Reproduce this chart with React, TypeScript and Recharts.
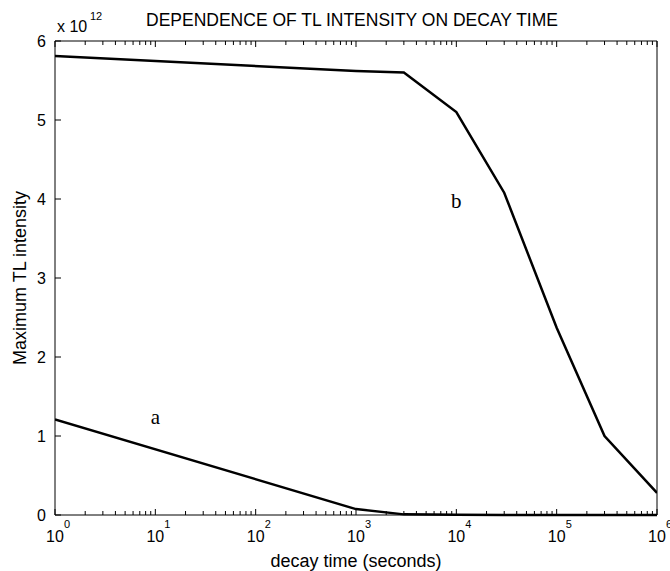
import React from 'react';
import { LineChart, Line, XAxis, YAxis, ReferenceDot } from 'recharts';

// decay time (seconds)
const decayTimes = [1, 1000, 3000, 10000, 30000, 100000, 300000, 1000000];
// Maximum TL intensity, in units of 10^12
const curveA = [1.21, 0.075, 0.008, 0.003, 0.001, 0.0005, 0, 0];
const curveB = [5.81, 5.62, 5.6, 5.1, 4.08, 2.37, 1.0, 0.28];

const xMajorTicks = [1, 10, 100, 1000, 10000, 100000, 1000000];
const xTickExponents = ['0', '1', '2', '3', '4', '5', '6'];
const minorMultipliers = [2, 3, 4, 5, 6, 7, 8, 9];
const yTicks = [0, 1, 2, 3, 4, 5, 6];

const labelA = { t: 10, v: 1.24, text: 'a' };
const labelB = { t: 10000, v: 3.98, text: 'b' };

const title = 'DEPENDENCE OF TL INTENSITY ON DECAY TIME';
const xTitle = 'decay time (seconds)';
const yTitle = 'Maximum TL intensity';

const data = decayTimes.map((t, i) => ({ t, a: curveA[i], b: curveB[i] }));

const xAllTicks: number[] = [];
xMajorTicks.forEach((m, i) => {
  xAllTicks.push(m);
  if (i < xMajorTicks.length - 1) minorMultipliers.forEach((k) => xAllTicks.push(k * m));
});

const FONT = '"Liberation Sans", Arial, Helvetica, sans-serif';
const MAJOR = 6;
const MINOR = 4;

const isMajor = (v: number) => xMajorTicks.indexOf(v) >= 0;

const BottomTick = (props: any) => {
  const { x, y, payload } = props;
  const v = payload.value;
  const major = isMajor(v);
  const idx = xMajorTicks.indexOf(v);
  return (
    <g>
      <line x1={x} y1={y} x2={x} y2={y - (major ? MAJOR : MINOR)} stroke="#000" strokeWidth={1} />
      {major && (
        <g fontFamily={FONT} fill="#000">
          <text x={x} y={y + 27} textAnchor="middle" fontSize={16}>10</text>
          <text x={x + 9} y={y + 13} textAnchor="start" fontSize={11}>{xTickExponents[idx]}</text>
        </g>
      )}
    </g>
  );
};

const TopTick = (props: any) => {
  const { x, y, payload } = props;
  const major = isMajor(payload.value);
  return <line x1={x} y1={y} x2={x} y2={y + (major ? MAJOR : MINOR)} stroke="#000" strokeWidth={1} />;
};

const LeftTick = (props: any) => {
  const { x, y, payload } = props;
  return (
    <g>
      <line x1={x} y1={y} x2={x + MAJOR} y2={y} stroke="#000" strokeWidth={1} />
      <text x={x - 9} y={y + 6} textAnchor="end" fontSize={16} fontFamily={FONT} fill="#000">
        {payload.value}
      </text>
    </g>
  );
};

const RightTick = (props: any) => {
  const { x, y } = props;
  return <line x1={x} y1={y} x2={x - MAJOR} y2={y} stroke="#000" strokeWidth={1} />;
};

export default function App() {
  return (
    <div style={{ position: 'absolute', left: 0, top: 0, width: 670, height: 571, background: '#fff' }}>
      <LineChart
        width={670}
        height={571}
        data={data}
        margin={{ top: 40, right: 12, bottom: 0, left: 0 }}
      >
        <text x={352} y={26} textAnchor="middle" fontSize={17.5} fontFamily={FONT} fill="#000">
          {title}
        </text>
        <text x={57} y={32} textAnchor="start" fontSize={16} fontFamily={FONT} fill="#000">
          x 10
        </text>
        <text x={90} y={20} textAnchor="start" fontSize={11} fontFamily={FONT} fill="#000">
          12
        </text>
        <XAxis
          xAxisId="bottom"
          dataKey="t"
          type="number"
          scale="log"
          domain={[1, 1000000]}
          allowDataOverflow
          ticks={xAllTicks}
          interval={0}
          tick={<BottomTick />}
          tickLine={false}
          tickSize={0}
          tickMargin={0}
          axisLine={{ stroke: '#000', strokeWidth: 1 }}
          height={56}
          label={{ value: xTitle, position: 'insideBottom', offset: 4, fontSize: 18, fontFamily: FONT, fill: '#000' }}
        />
        <XAxis
          xAxisId="top"
          orientation="top"
          dataKey="t"
          type="number"
          scale="log"
          domain={[1, 1000000]}
          allowDataOverflow
          ticks={xAllTicks}
          interval={0}
          tick={<TopTick />}
          tickLine={false}
          tickSize={0}
          tickMargin={0}
          axisLine={{ stroke: '#000', strokeWidth: 1 }}
          height={1}
        />
        <YAxis
          yAxisId="left"
          type="number"
          domain={[0, 6]}
          ticks={yTicks}
          interval={0}
          tick={<LeftTick />}
          tickLine={false}
          tickSize={0}
          tickMargin={0}
          axisLine={{ stroke: '#000', strokeWidth: 1 }}
          width={55}
          label={{
            value: yTitle,
            angle: -90,
            position: 'insideLeft',
            offset: 20,
            fontSize: 18,
            fontFamily: FONT,
            fill: '#000',
            style: { textAnchor: 'middle' },
          }}
        />
        <YAxis
          yAxisId="right"
          orientation="right"
          type="number"
          domain={[0, 6]}
          ticks={yTicks}
          interval={0}
          tick={<RightTick />}
          tickLine={false}
          tickSize={0}
          tickMargin={0}
          axisLine={{ stroke: '#000', strokeWidth: 1 }}
          width={1}
        />
        <Line
          xAxisId="bottom"
          yAxisId="left"
          type="linear"
          dataKey="a"
          stroke="#000"
          strokeWidth={2.5}
          dot={false}
          isAnimationActive={false}
        />
        <Line
          xAxisId="bottom"
          yAxisId="left"
          type="linear"
          dataKey="b"
          stroke="#000"
          strokeWidth={2.5}
          dot={false}
          isAnimationActive={false}
        />
        <ReferenceDot
          xAxisId="bottom"
          yAxisId="left"
          x={labelA.t}
          y={labelA.v}
          r={1}
          fill="none"
          stroke="none"
          label={{ value: labelA.text, position: 'center', fontSize: 21, fontFamily: '"Liberation Serif", "Times New Roman", serif', fill: '#000' }}
        />
        <ReferenceDot
          xAxisId="bottom"
          yAxisId="left"
          x={labelB.t}
          y={labelB.v}
          r={1}
          fill="none"
          stroke="none"
          label={{ value: labelB.text, position: 'center', fontSize: 21, fontFamily: '"Liberation Serif", "Times New Roman", serif', fill: '#000' }}
        />
      </LineChart>
    </div>
  );
}
